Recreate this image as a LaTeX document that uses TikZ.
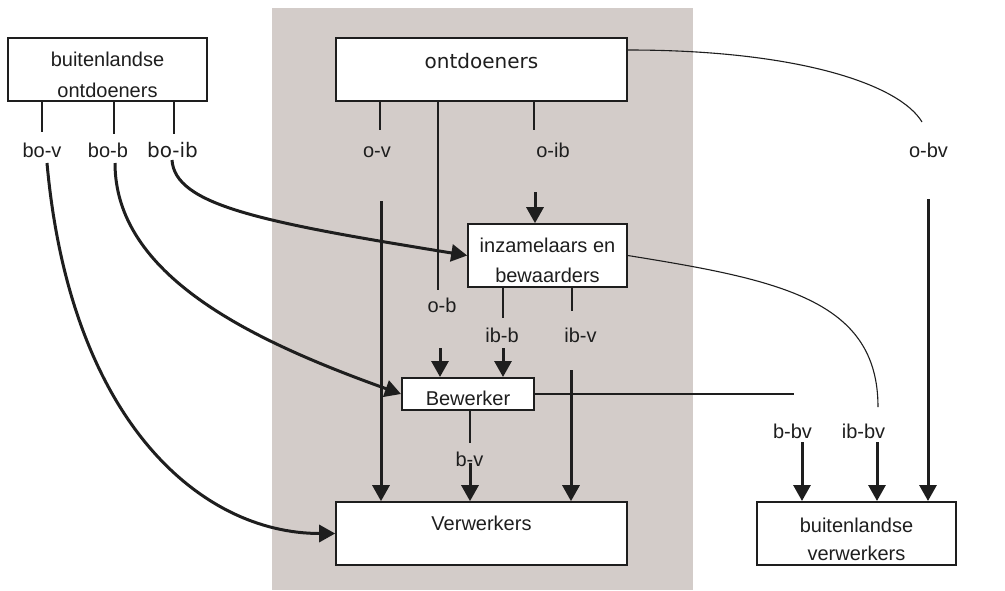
\documentclass[tikz,border=0pt]{standalone}
\usepackage{fontspec}
\setmainfont{Liberation Sans}
\newfontfamily\dvfont{DejaVu Sans}
\usetikzlibrary{arrows.meta}
\definecolor{panel}{RGB}{211,204,201}
\definecolor{ink}{RGB}{30,30,30}
\newcommand{\mktwo}[2]{\begin{tabular}[b]{@{}c@{}}#1\\#2\end{tabular}}
\begin{document}
\begin{tikzpicture}[x=1pt,y=-1pt,
  box/.style={draw=ink, line width=1.6pt, fill=white, inner sep=0pt, text height=0pt, text depth=0pt, text=ink},
  lbl/.style={inner sep=0pt, anchor=base, font=\fontsize{20}{24}\selectfont, text=ink},
  thinline/.style={line width=1.1pt, draw=ink},
  flow/.style={line width=3pt, draw=ink, -{Triangle[width=17pt,length=16pt]}},
]
\useasboundingbox (0,0) rectangle (1005,590);
\fill[white] (0,0) rectangle (1005,590);
\fill[panel] (272,8) rectangle (693,590);

% boxes
\node[box, line width=2.2pt, minimum width=199pt, minimum height=63pt, text height=55pt, font=\fontsize{20}{31}\selectfont] (bo) at (107.5,69.5) {\mktwo{buitenlandse}{ontdoeners}};
\node[box, line width=2.2pt, minimum width=291pt, minimum height=63pt, text depth=3pt, font=\dvfont\fontsize{20}{24}\selectfont] (ontd) at (481.5,69.5) {ontdoeners};
\node[box, minimum width=159pt, minimum height=63pt, text height=53pt, font=\fontsize{20}{30}\selectfont] (inz) at (547.5,255.5) {\mktwo{inzamelaars en}{bewaarders}};
\node[box, line width=2pt, minimum width=132pt, minimum height=32pt, text height=22pt, font=\fontsize{20}{24}\selectfont] (bew) at (468,394) {Bewerker};
\node[box, minimum width=291pt, minimum height=63pt, text depth=7pt, font=\fontsize{20}{24}\selectfont] (verw) at (481.5,533.5) {Verwerkers};
\node[box, line width=2pt, minimum width=199pt, minimum height=63pt, text height=53pt, font=\fontsize{20}{28}\selectfont] (bv) at (856.5,533.5) {\mktwo{buitenlandse}{verwerkers}};

% labels
\node[lbl] (bov) at (42,157) {bo-v};
\node[lbl] (bob) at (108,157) {bo-b};
\node[lbl, font=\dvfont\fontsize{20}{24}\selectfont] (boib) at (172.5,157) {bo-ib};
\node[lbl] (ov) at (377,157) {o-v};
\node[lbl] (oib) at (553,157) {o-ib};
\node[lbl] (obv) at (928.5,157) {o-bv};
\node[lbl] (ob) at (442,312) {o-b};
\node[lbl] (ibb) at (502,342) {ib-b};
\node[lbl] (ibv) at (580.5,342) {ib-v};
\node[lbl] (bvl) at (469.5,466) {b-v};
\node[lbl] (bbv) at (792.5,438) {b-bv};
\node[lbl] (ibbv) at (863.5,438) {ib-bv};

% free ends
\coordinate (bov-s) at (42,132);   \coordinate (bov-a) at (47,163);
\coordinate (bob-s) at (114,134);  \coordinate (bob-a) at (115,163);
\coordinate (boib-s) at (174,134); \coordinate (boib-a) at (172,160);
\coordinate (ov-s) at (380,130);   \coordinate (ov-a) at (381,201);
\coordinate (ob-s) at (438,290);   \coordinate (ob-a) at (440,348);
\coordinate (oib-s) at (534,130);  \coordinate (oib-a) at (535,192);
\coordinate (obv-s) at (922,122);  \coordinate (obv-a) at (928,199);
\coordinate (ibb-s) at (503,318);  \coordinate (ibb-a) at (503,348);
\coordinate (ibv-s) at (572,311);  \coordinate (ibv-a) at (571,370);
\coordinate (ibbv-s) at (878,407); \coordinate (ibbv-a) at (877,442);
\coordinate (bv-s) at (470,443);   \coordinate (bv-a) at (470,463);
\coordinate (bbv-s) at (794,394);  \coordinate (bbv-a) at (802,442);

% thin stubs
\draw[thinline] (bo.south -| bov-s) -- (bov-s);
\draw[thinline] (bo.south -| bob-s) -- (bob-s);
\draw[thinline] (bo.south -| boib-s) -- (boib-s);
\draw[thinline] (ontd.south -| ov-s) -- (ov-s);
\draw[thinline] (ontd.south -| ob-s) -- (ob-s);
\draw[thinline] (ontd.south -| oib-s) -- (oib-s);
\draw[thinline] ([yshift=19.5pt]ontd.east) .. controls (800,50) and (900,85) .. (obv-s);
\draw[thinline] (inz.south -| ibb-s) -- (ibb-s);
\draw[thinline] (inz.south -| ibv-s) -- (ibv-s);
\draw[thinline] (inz.east) .. controls (780,280) and (878,300) .. (ibbv-s);
\draw[thinline] (bew.south -| bv-s) -- (bv-s);
\draw[thinline] (bew.east) -- (bbv-s);

% flows
\draw[flow] (bov-a) .. controls (70,420) and (200,533.5) .. (verw.west);
\draw[flow] (bob-a) .. controls (115,275) and (250,340) .. (bew.west);
\draw[flow] (boib-a) .. controls (175,205) and (260,222) .. (inz.west);
\draw[flow] (ov-a) -- (ov-a |- verw.north);
\draw[flow] (ob-a) -- (ob-a |- bew.north);
\draw[flow] (oib-a) -- (oib-a |- inz.north);
\draw[flow] (obv-a) -- (obv-a |- bv.north);
\draw[flow] (ibb-a) -- (ibb-a |- bew.north);
\draw[flow] (ibv-a) -- (ibv-a |- verw.north);
\draw[flow] (ibbv-a) -- (ibbv-a |- bv.north);
\draw[flow] (bv-a) -- (bv-a |- verw.north);
\draw[flow] (bbv-a) -- (bbv-a |- bv.north);
\end{tikzpicture}
\end{document}
